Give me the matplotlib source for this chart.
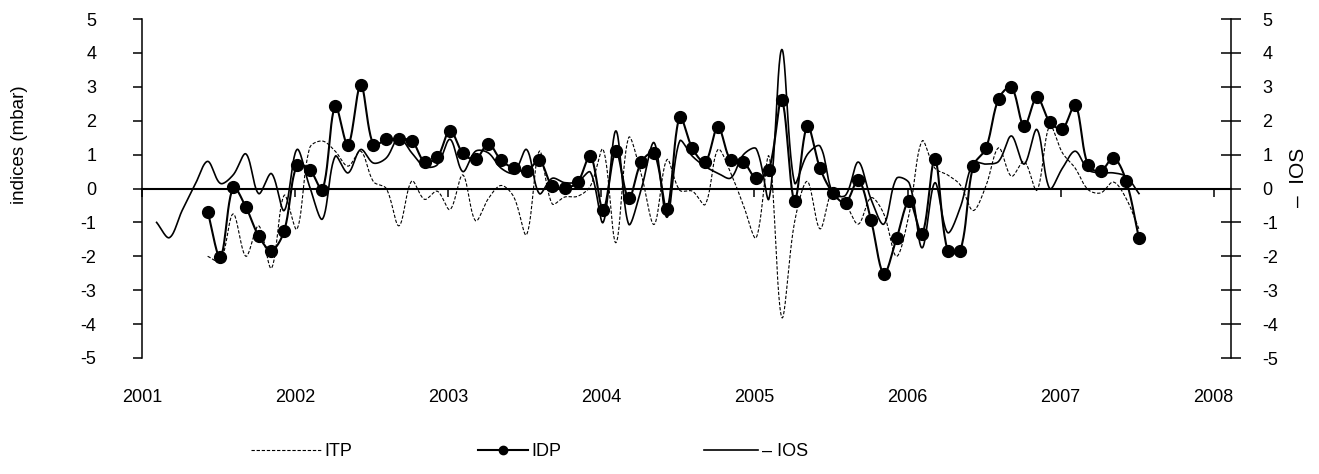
import numpy as np
import pandas as pd
import matplotlib
matplotlib.use("Agg")
import matplotlib.pyplot as plt
from matplotlib.lines import Line2D

plt.rcParams['font.family'] = ['Liberation Sans', 'DejaVu Sans']

# ---------------- data (monthly) ----------------
ios_start = "2001-02"
idp_start = "2001-06"
itp_start = "2001-06"

ios = [-1.0, -1.45, -0.65, 0.1, 0.8, 0.15, 0.4, 1.02, -0.15, 0.44,
       -0.65, 1.15, 0.05, -0.9, 0.95, 0.46, 1.15, 0.75, 0.9, 1.5,
       1.05, 0.65, 0.7, 1.45, 0.5, 1.1, 1.05, 0.6, 0.46, 1.15,
       -0.15, 0.3, 0.17, 0.2, 0.48, -1.0, 1.7, -1.05, 0.0, 1.35,
       -0.85, 1.4, 0.95, 0.65, 0.45, 0.31, 1.0, 1.17, -0.3, 4.1,
       0.17, 1.0, 1.25, -0.13, -0.2, 0.78, -0.32, -1.05, 0.3, 0.15,
       -1.75, 0.17, -1.3, -0.55, 0.75, 0.72, 0.8, 1.55, 0.72, 1.74,
       0.0, 0.6, 1.1, 0.55, 0.46, 0.46, 0.35, -0.15]

idp = [-0.68, -2.02, 0.03, -0.55, -1.40, -1.83, -1.25, 0.69, 0.56, -0.03,
       2.43, 1.28, 3.05, 1.28, 1.45, 1.45, 1.41, 0.79, 0.92, 1.71,
       1.04, 0.86, 1.32, 0.83, 0.60, 0.51, 0.83, 0.08, 0.02, 0.18,
       0.97, -0.62, 1.10, -0.29, 0.79, 1.05, -0.60, 2.11, 1.18, 0.78,
       1.81, 0.83, 0.78, 0.30, 0.56, 2.61, -0.36, 1.84, 0.60, -0.13,
       -0.42, 0.26, -0.94, -2.51, -1.47, -0.37, -1.35, 0.86, -1.83, -1.83,
       0.66, 1.18, 2.65, 2.99, 1.84, 2.69, 1.97, 1.76, 2.47, 0.69,
       0.51, 0.91, 0.22, -1.47]

itp = [-2.0, -2.15, -0.75, -2.0, -1.1, -2.35, -0.2, -1.2, 1.2, 1.4,
       1.1, 0.66, 1.1, 0.2, 0.0, -1.1, 0.22, -0.32, -0.08, -0.62,
       0.4, -0.95, -0.3, 0.09, -0.25, -1.36, 1.1, -0.45, -0.25, -0.23,
       0.07, 1.15, -1.6, 1.5, 0.4, -1.06, 0.85, -0.05, -0.08, -0.47,
       1.15, 0.46, -0.5, -1.45, 0.95, -3.8, -1.0, 0.21, -1.19, -0.05,
       -0.45, -1.05, -0.27, -0.75, -2.0, -0.72, 1.4, 0.6, 0.4, 0.1,
       -0.65, 0.07, 1.2, 0.36, 0.8, -0.05, 1.85, 1.05, 0.6, -0.03,
       -0.13, 0.19, -0.3, -1.2]

years = [2001, 2002, 2003, 2004, 2005, 2006, 2007, 2008]
yticks = [-5, -4, -3, -2, -1, 0, 1, 2, 3, 4, 5]
legend_labels = ["ITP", "IDP", "\u2013 IOS"]
left_label = "indices (mbar)"
right_label = "\u2013  IOS"


def decimal_months(start, n):
    p = pd.period_range(start, periods=n, freq="M")
    return np.asarray(p.year + (p.month - 1) / 12.0 + 0.012, dtype=float)


W, H = 1319, 474
L, R, T, B = 142, 1231, 19, 358
PX_PER_YEAR = 153.1
PX_PER_UNIT = (B - T) / 10.0


def smooth(x, y, n=24):
    """Excel-like smoothed line: cubic Bezier through the points with
    chord-length weighted tangents (computed in screen proportions)."""
    P = np.column_stack([np.asarray(x) * PX_PER_YEAR,
                         np.asarray(y) * PX_PER_UNIT]).astype(float)
    P = np.vstack([P[0], P, P[-1]])
    t = np.linspace(0, 1, n, endpoint=False)[:, None]
    out = []
    for i in range(1, len(P) - 2):
        p0, p1, p2, p3 = P[i - 1], P[i], P[i + 1], P[i + 2]
        d01 = np.hypot(*(p1 - p0))
        d12 = np.hypot(*(p2 - p1))
        d23 = np.hypot(*(p3 - p2))
        f1 = d12 / (d01 + d12) if d01 + d12 > 0 else 0.5
        f2 = d12 / (d12 + d23) if d12 + d23 > 0 else 0.5
        c1 = p1 + (p2 - p0) * f1 / 3.0
        c2 = p2 - (p3 - p1) * f2 / 3.0
        out.append((1 - t) ** 3 * p1 + 3 * (1 - t) ** 2 * t * c1
                   + 3 * (1 - t) * t ** 2 * c2 + t ** 3 * p2)
    out.append(P[-2][None, :])
    S = np.vstack(out)
    return S[:, 0] / PX_PER_YEAR, S[:, 1] / PX_PER_UNIT


x_ios = decimal_months(ios_start, len(ios))
x_idp = decimal_months(idp_start, len(idp))
x_itp = decimal_months(itp_start, len(itp))

fig = plt.figure(figsize=(W / 100, H / 100), dpi=100)
ax = fig.add_axes([L / W, 1 - B / H, (R - L) / W, (B - T) / H])
ax.set_xlim(2001, 2001 + (R - L) / PX_PER_YEAR)
ax.set_ylim(-5, 5)

# series
sx, sy = smooth(x_itp, itp)
ax.plot(sx, sy, color="black", lw=0.8, ls=(0, (3, 1.6)), zorder=3)
sx, sy = smooth(x_ios, ios)
ax.plot(sx, sy, color="black", lw=1.2, zorder=4)
sx, sy = smooth(x_idp, idp)
ax.plot(sx, sy, color="black", lw=1.5, zorder=5)
ax.plot(x_idp, idp, ls="none", marker="o", ms=8.5, color="black", zorder=6)

# axes styling
for s in ["top", "right"]:
    ax.spines[s].set_visible(False)
ax.spines["bottom"].set_position(("data", 0))
ax.spines["bottom"].set_linewidth(1.5)
ax.spines["left"].set_linewidth(1.1)
ax.set_xticks(years)
ax.tick_params(axis="x", direction="out", length=5.5, width=1.1,
               labelbottom=False)
ax.set_yticks(yticks)
ax.set_yticklabels([str(v) for v in yticks])
ax.tick_params(axis="y", direction="out", length=6.7, width=1.1, pad=26,
               labelsize=13)

sec = ax.secondary_xaxis("bottom")
sec.spines["bottom"].set_visible(False)
sec.set_xticks(years)
sec.set_xticklabels([str(y) for y in years])
sec.tick_params(axis="x", length=0, pad=22, labelsize=13)

ax2 = ax.twinx()
ax2.set_ylim(-5, 5)
for s in ["top", "left", "bottom"]:
    ax2.spines[s].set_visible(False)
ax2.spines["right"].set_linewidth(1.1)
ax2.set_yticks(yticks)
ax2.set_yticklabels([str(v) for v in yticks])
ax2.tick_params(axis="y", direction="inout", length=15, width=1.1, pad=15,
                labelsize=13)

fig.text(20 / W, 1 - 145 / H, left_label, rotation=90, ha="center",
         va="center", fontsize=13.5)
fig.text(1299 / W, 1 - 177 / H, right_label, rotation=90, ha="center",
         va="center", fontsize=15)

# legend (three keys side by side)
handles = [
    Line2D([], [], color="black", lw=0.8, ls=(0, (3, 1.6))),
    Line2D([], [], color="black", lw=1.5, marker="o", ms=6),
    Line2D([], [], color="black", lw=1.2),
]
key_left = [251, 478, 704]
key_len = [3.85, 2.75, 3.0]
for h, lab, xl, hl in zip(handles, legend_labels, key_left, key_len):
    fig.legend([h], [lab], loc="center left",
               bbox_to_anchor=(xl / W, 1 - 452 / H), frameon=False,
               fontsize=13, handlelength=hl, handletextpad=0.2,
               borderpad=0, borderaxespad=0)

fig.savefig("out.png", dpi=100)
